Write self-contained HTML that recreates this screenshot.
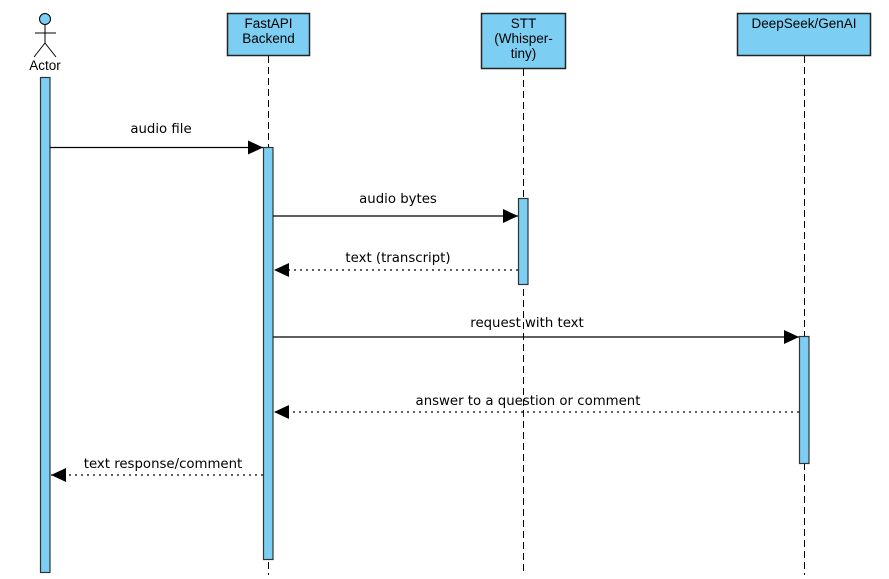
<!DOCTYPE html>
<html><head><meta charset="utf-8"><style>
html,body{margin:0;padding:0;background:#fff;width:889px;height:579px;overflow:hidden}
.h{font-family:"Liberation Sans",sans-serif;font-size:13.5px;fill:#000}
.m{font-family:"DejaVu Sans",sans-serif;font-size:13.3px;fill:#000}
</style></head><body>
<svg width="889" height="579" xmlns="http://www.w3.org/2000/svg">
<defs>
<marker id="b" markerWidth="15" markerHeight="14" refX="15" refY="7" orient="auto" markerUnits="userSpaceOnUse"><path d="M0,0 L15,7 L0,14 Z" fill="#000"/></marker>
</defs>
<g stroke="#000" stroke-width="1" stroke-dasharray="7,4">
<line x1="268.5" y1="56" x2="268.5" y2="575"/>
<line x1="523.5" y1="69" x2="523.5" y2="575"/>
<line x1="804.5" y1="56" x2="804.5" y2="575"/>
</g>
<g fill="#7ccff3" stroke="#222" stroke-width="1.5">
<rect x="227.5" y="13.5" width="82" height="42"/>
<rect x="481.5" y="13.5" width="84" height="55"/>
<rect x="737.5" y="13.5" width="133" height="42"/>
</g>
<text class="h" x="268.5" y="28" text-anchor="middle">FastAPI</text>
<text class="h" x="268.5" y="43" text-anchor="middle">Backend</text>
<text class="h" x="523.5" y="28" text-anchor="middle">STT</text>
<text class="h" x="523.5" y="43" text-anchor="middle">(Whisper-</text>
<text class="h" x="523.5" y="58" text-anchor="middle">tiny)</text>
<text class="h" x="804" y="28" text-anchor="middle">DeepSeek/GenAI</text>
<circle cx="45" cy="19" r="5.5" fill="#7ccff3" stroke="#000" stroke-width="1"/>
<g stroke="#000" stroke-width="1" fill="none">
<line x1="45" y1="24.5" x2="45" y2="43"/>
<line x1="35" y1="33" x2="56" y2="33"/>
<path d="M34,57 L45,43 L56,57"/>
</g>
<text class="h" x="45" y="70" text-anchor="middle">Actor</text>
<g fill="#7ccff3" stroke="#333" stroke-width="1.2">
<rect x="40.5" y="77.5" width="9.5" height="495"/>
<rect x="263.5" y="147.5" width="9.5" height="412"/>
<rect x="518.5" y="198.5" width="9.5" height="86"/>
<rect x="799.5" y="336.5" width="9.5" height="127"/>
</g>
<g stroke="#000" stroke-width="1.2" fill="none">
<line x1="50" y1="147.5" x2="263" y2="147.5" marker-end="url(#b)"/>
<line x1="273" y1="216" x2="518" y2="216" marker-end="url(#b)"/>
<line x1="273" y1="337" x2="799" y2="337" marker-end="url(#b)"/>
<line x1="518" y1="270" x2="274" y2="270" stroke-dasharray="2,4" marker-end="url(#b)"/>
<line x1="799" y1="412" x2="274" y2="412" stroke-dasharray="2,4" marker-end="url(#b)"/>
<line x1="263" y1="475" x2="51" y2="475" stroke-dasharray="2,4" marker-end="url(#b)"/>
</g>
<text class="m" x="161" y="133" text-anchor="middle">audio file</text>
<text class="m" x="398" y="203" text-anchor="middle">audio bytes</text>
<text class="m" x="398" y="262" text-anchor="middle">text (transcript)</text>
<text class="m" x="527" y="327" text-anchor="middle">request with text</text>
<text class="m" x="528" y="405" text-anchor="middle">answer to a question or comment</text>
<text class="m" x="163" y="468" text-anchor="middle">text response/comment</text>
</svg>
</body></html>
